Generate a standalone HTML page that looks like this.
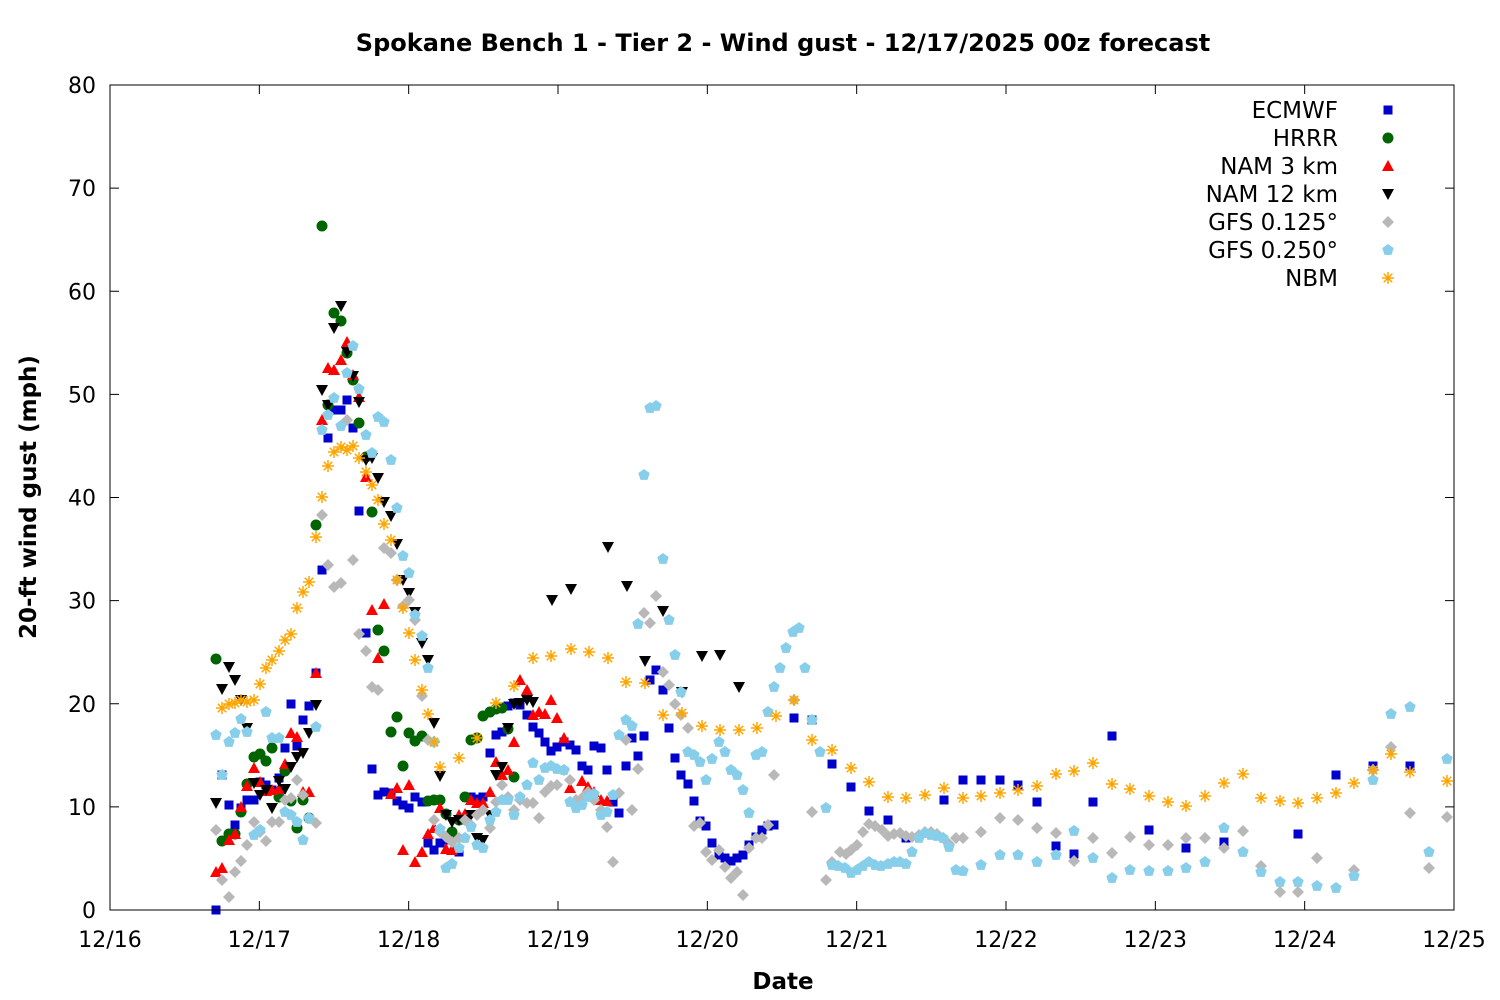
<!DOCTYPE html>
<html><head><meta charset="utf-8">
<style>
html,body{margin:0;padding:0;background:#fff;}
svg{display:block;font-family:"DejaVu Sans","Liberation Sans",sans-serif;}
</style></head>
<body>
<svg id="s" width="1500" height="1000" xmlns="http://www.w3.org/2000/svg">
<rect width="1500" height="1000" fill="#fff"/>
<text x="783" y="51" text-anchor="middle" font-size="24" font-weight="bold">Spokane Bench 1 - Tier 2 - Wind gust - 12/17/2025 00z forecast</text>
<text x="783" y="989" text-anchor="middle" font-size="23" font-weight="bold">Date</text>
<text transform="translate(36,497) rotate(-90)" text-anchor="middle" font-size="23" font-weight="bold">20-ft wind gust (mph)</text>
<g id="axes"></g>
<g id="pts"></g>
<g id="leg" font-size="23" text-anchor="end">
<text x="1338" y="118">ECMWF</text>
<text x="1338" y="146">HRRR</text>
<text x="1338" y="174">NAM 3 km</text>
<text x="1338" y="202">NAM 12 km</text>
<text x="1338" y="230">GFS 0.125°</text>
<text x="1338" y="258">GFS 0.250°</text>
<text x="1338" y="286">NBM</text>
</g>
<rect x="110" y="85" width="1344" height="825" fill="none" stroke="#000" stroke-width="1"/>
</svg>
<script>
var NS="http://www.w3.org/2000/svg";
function el(p,t,a){var e=document.createElementNS(NS,t);for(var k in a)e.setAttribute(k,a[k]);p.appendChild(e);return e;}
var ax=document.getElementById('axes');
for(var i=0;i<=8;i++){var y=910-i*103.125;
el(ax,'line',{x1:110,y1:y,x2:119,y2:y,stroke:'#000'});el(ax,'line',{x1:1454,y1:y,x2:1445,y2:y,stroke:'#000'});
var t=el(ax,'text',{x:96,y:y+8,'text-anchor':'end','font-size':22});t.textContent=i*10;}
var dl=['12/16','12/17','12/18','12/19','12/20','12/21','12/22','12/23','12/24','12/25'];
for(var i=0;i<=9;i++){var x=110+i*1344/9;
el(ax,'line',{x1:x,y1:910,x2:x,y2:901,stroke:'#000'});el(ax,'line',{x1:x,y1:85,x2:x,y2:94,stroke:'#000'});
var t=el(ax,'text',{x:x,y:947,'text-anchor':'middle','font-size':22});t.textContent=dl[i];}
function P(s){var a=s.split(' '),r=[];for(var i=0;i<a.length;i++){var q=a[i].split(',');r.push([+q[0],+q[1]]);}return r;}
var g=document.getElementById('pts');
function sq(x,y){el(g,'rect',{x:x-4.5,y:y-4.5,width:9,height:9,fill:'#0000cc'});}
function ci(x,y){el(g,'circle',{cx:x,cy:y,r:5.5,fill:'#006400'});}
function tu(x,y){el(g,'polygon',{points:(x-6)+','+(y+5)+' '+(x+6)+','+(y+5)+' '+x+','+(y-6),fill:'#ff0000'});}
function td(x,y){el(g,'polygon',{points:(x-6)+','+(y-5)+' '+(x+6)+','+(y-5)+' '+x+','+(y+6),fill:'#000'});}
function di(x,y){el(g,'polygon',{points:x+','+(y-6)+' '+(x+6)+','+y+' '+x+','+(y+6)+' '+(x-6)+','+y,fill:'#b8b8b8'});}
function pe(x,y){var p=[];for(var k=0;k<5;k++){var a=-Math.PI/2+k*2*Math.PI/5;p.push((x+6*Math.cos(a)).toFixed(1)+','+(y+6*Math.sin(a)).toFixed(1));}el(g,'polygon',{points:p.join(' '),fill:'#87ceeb'});}
function st(x,y){var d='';for(var k=0;k<4;k++){var a=k*Math.PI/4,c=6*Math.cos(a),s=6*Math.sin(a);d+='M'+(x-c)+','+(y-s)+'L'+(x+c)+','+(y+s);}el(g,'path',{d:d,stroke:'#ffa500','stroke-width':1.5,fill:'none'});}
var E=P("216,910 222,775 229,805 235,825 241,808 247,800 254,800 260,782 266,785 272,790 279,778 285,748 291,704 297,746 303,720 309,706 316,673 322,570 328,438 334,410 341,410 347,400 353,428 359,511 366,633 372,769 378,795 384,792 391,793 397,801 403,805 409,808 415,797 422,802 428,843 434,850 440,843 446,840 452,838 459,852 465,820 471,797 477,799 483,797 490,753 496,735 502,732 508,706 514,703 520,705 527,715 533,727 539,733 545,742 551,751 557,747 564,742 570,745 576,750 582,766 588,770 594,746 601,748 607,770 613,802 619,813 626,766 632,738 638,756 644,736 650,680 656,670 663,690 669,728 675,758 681,775 688,784 694,801 700,821 706,826 712,843 719,855 725,858 731,861 737,858 743,855 749,845 756,837 762,830 768,826 774,825 794,718 812,720 832,764 851,787 869,811 888,820 906,838 944,800 963,780 981,780 1000,780 1018,785 1037,802 1056,846 1074,854 1093,802 1112,736 1149,830 1186,848 1224,842 1298,834 1336,775 1373,766 1410,766");
var H=P("216,659 222,841 229,834 235,834 241,812 247,784 254,757 260,754 266,761 272,748 279,797 285,771 291,801 297,828 303,800 309,818 316,525 322,226 328,405 334,313 341,321 347,353 353,380 359,423 366,457 372,512 378,630 384,651 391,732 397,717 403,766 409,733 415,741 422,736 428,801 434,800 440,800 446,814 452,832 459,820 465,797 471,740 477,738 483,716 490,712 496,709 502,708 508,729 514,777");
var N3=P("216,872 222,868 229,840 235,834 241,807 247,786 254,768 260,782 266,791 272,790 279,789 285,764 291,733 297,737 303,792 309,792 316,673 322,420 328,368 334,370 341,360 347,342 353,375 359,397 366,477 372,610 378,658 384,604 391,794 397,788 403,850 409,785 415,862 422,852 428,834 434,828 440,808 446,849 452,850 459,815 465,814 471,800 477,803 483,803 490,792 496,762 502,775 508,770 514,742 520,680 527,690 533,715 539,712 545,714 551,700 557,718 564,738 570,788 576,800 582,781 588,787 594,792 601,800 607,801");
var N12=P("216,803 222,689 229,667 235,680 241,700 247,728 254,783 260,795 266,790 272,808 279,781 285,789 291,767 297,757 303,753 309,733 316,705 322,390 328,405 334,328 341,306 347,352 353,376 359,402 366,460 372,458 378,478 384,502 391,516 397,544 403,580 409,593 415,612 422,643 428,660 434,723 440,776 446,815 452,822 459,820 465,820 471,815 477,838 483,840 490,815 496,775 502,767 508,728 514,704 520,703 527,700 533,702 552,600 571,589 608,547 627,586 645,661 663,611 682,692 702,656 720,655 739,687");
var G1=P("216,830 222,880 229,897 235,872 241,861 247,845 254,822 260,832 266,841 272,822 279,822 285,800 291,798 297,780 303,795 309,818 316,823 322,515 328,565 334,587 341,583 347,420 353,560 359,634 366,651 372,687 378,690 384,548 391,553 397,580 403,606 409,600 415,620 422,696 428,740 434,820 440,832 446,837 452,842 459,838 465,820 471,825 477,815 483,810 490,828 496,802 502,785 508,797 514,810 520,800 527,803 533,803 539,818 545,792 551,786 557,785 564,770 570,780 576,800 582,798 588,792 594,800 601,810 607,827 613,862 619,793 626,740 632,810 638,769 644,613 650,623 656,596 663,672 669,685 675,704 681,715 688,728 694,826 700,823 706,852 712,860 719,850 725,867 731,878 737,872 743,895 749,848 756,838 762,838 768,825 774,775 794,700 812,812 826,880 832,862 840,852 846,854 851,850 857,845 863,832 869,824 875,826 882,830 888,836 894,834 900,833 906,836 912,837 919,835 925,832 931,832 937,834 943,838 949,844 956,838 963,838 981,832 1000,818 1018,820 1037,828 1056,833 1074,861 1093,838 1112,853 1130,837 1149,845 1168,845 1186,838 1205,838 1224,848 1243,831 1261,866 1280,892 1298,892 1317,858 1354,870 1373,770 1391,747 1410,813 1429,868 1447,817");
var G2=P("216,735 222,775 229,742 235,733 241,719 247,732 254,835 260,830 266,712 272,738 279,738 285,812 291,815 297,822 303,840 309,818 316,727 322,430 328,415 334,398 341,426 347,373 353,346 359,389 366,435 372,453 378,417 384,422 391,460 397,508 403,556 409,573 415,615 422,636 428,668 434,742 440,829 446,868 452,864 459,848 465,838 471,827 477,845 483,848 490,820 496,812 502,800 508,800 514,815 520,797 527,785 533,763 539,780 545,768 551,766 557,769 564,770 570,802 576,808 582,805 588,797 594,794 601,815 607,812 613,795 619,735 626,720 632,726 638,624 644,475 650,408 656,406 663,559 669,620 675,655 681,692 688,752 694,755 700,762 706,780 712,759 719,742 725,752 731,770 737,775 743,790 749,813 756,755 762,752 768,712 774,687 780,668 786,648 793,632 799,628 805,668 812,720 820,752 826,808 832,865 838,866 845,868 851,873 857,870 863,866 869,862 875,865 881,866 888,864 894,862 900,862 906,864 912,852 919,838 925,833 931,835 937,836 943,838 949,847 956,870 963,871 981,865 1000,855 1018,855 1037,862 1056,855 1074,831 1093,858 1112,878 1130,870 1149,871 1168,871 1186,868 1205,862 1224,828 1243,852 1261,872 1280,882 1298,882 1317,886 1336,888 1354,876 1373,780 1391,714 1410,707 1429,852 1447,759");
var NB=P("222,708 229,704 235,703 241,700 247,702 254,700 260,684 266,668 272,660 279,651 285,640 291,634 297,608 303,592 309,582 316,537 322,497 328,466 334,452 341,447 347,450 353,446 359,458 366,472 372,485 378,500 384,524 391,540 397,580 403,608 409,633 415,660 422,690 428,714 434,742 440,767 459,758 477,738 496,703 514,686 533,658 551,656 571,649 589,652 608,658 626,682 645,683 663,715 682,713 702,726 720,730 739,730 757,728 776,716 794,700 812,740 832,750 851,768 869,782 888,797 906,798 925,795 944,788 963,798 981,796 1000,793 1018,790 1037,786 1056,774 1074,771 1093,763 1112,784 1130,789 1149,796 1168,802 1186,806 1205,796 1224,783 1243,774 1261,798 1280,801 1298,803 1317,798 1336,793 1354,783 1373,770 1391,754 1410,772 1447,781");
[[E,sq],[H,ci],[N3,tu],[N12,td],[G1,di],[G2,pe],[NB,st]].forEach(function(s){s[0].forEach(function(p){s[1](p[0],p[1]);});});
sq(1388,110);ci(1388,138);tu(1388,166);td(1388,194);di(1388,222);pe(1388,250);st(1388,278);
</script>
</body></html>
